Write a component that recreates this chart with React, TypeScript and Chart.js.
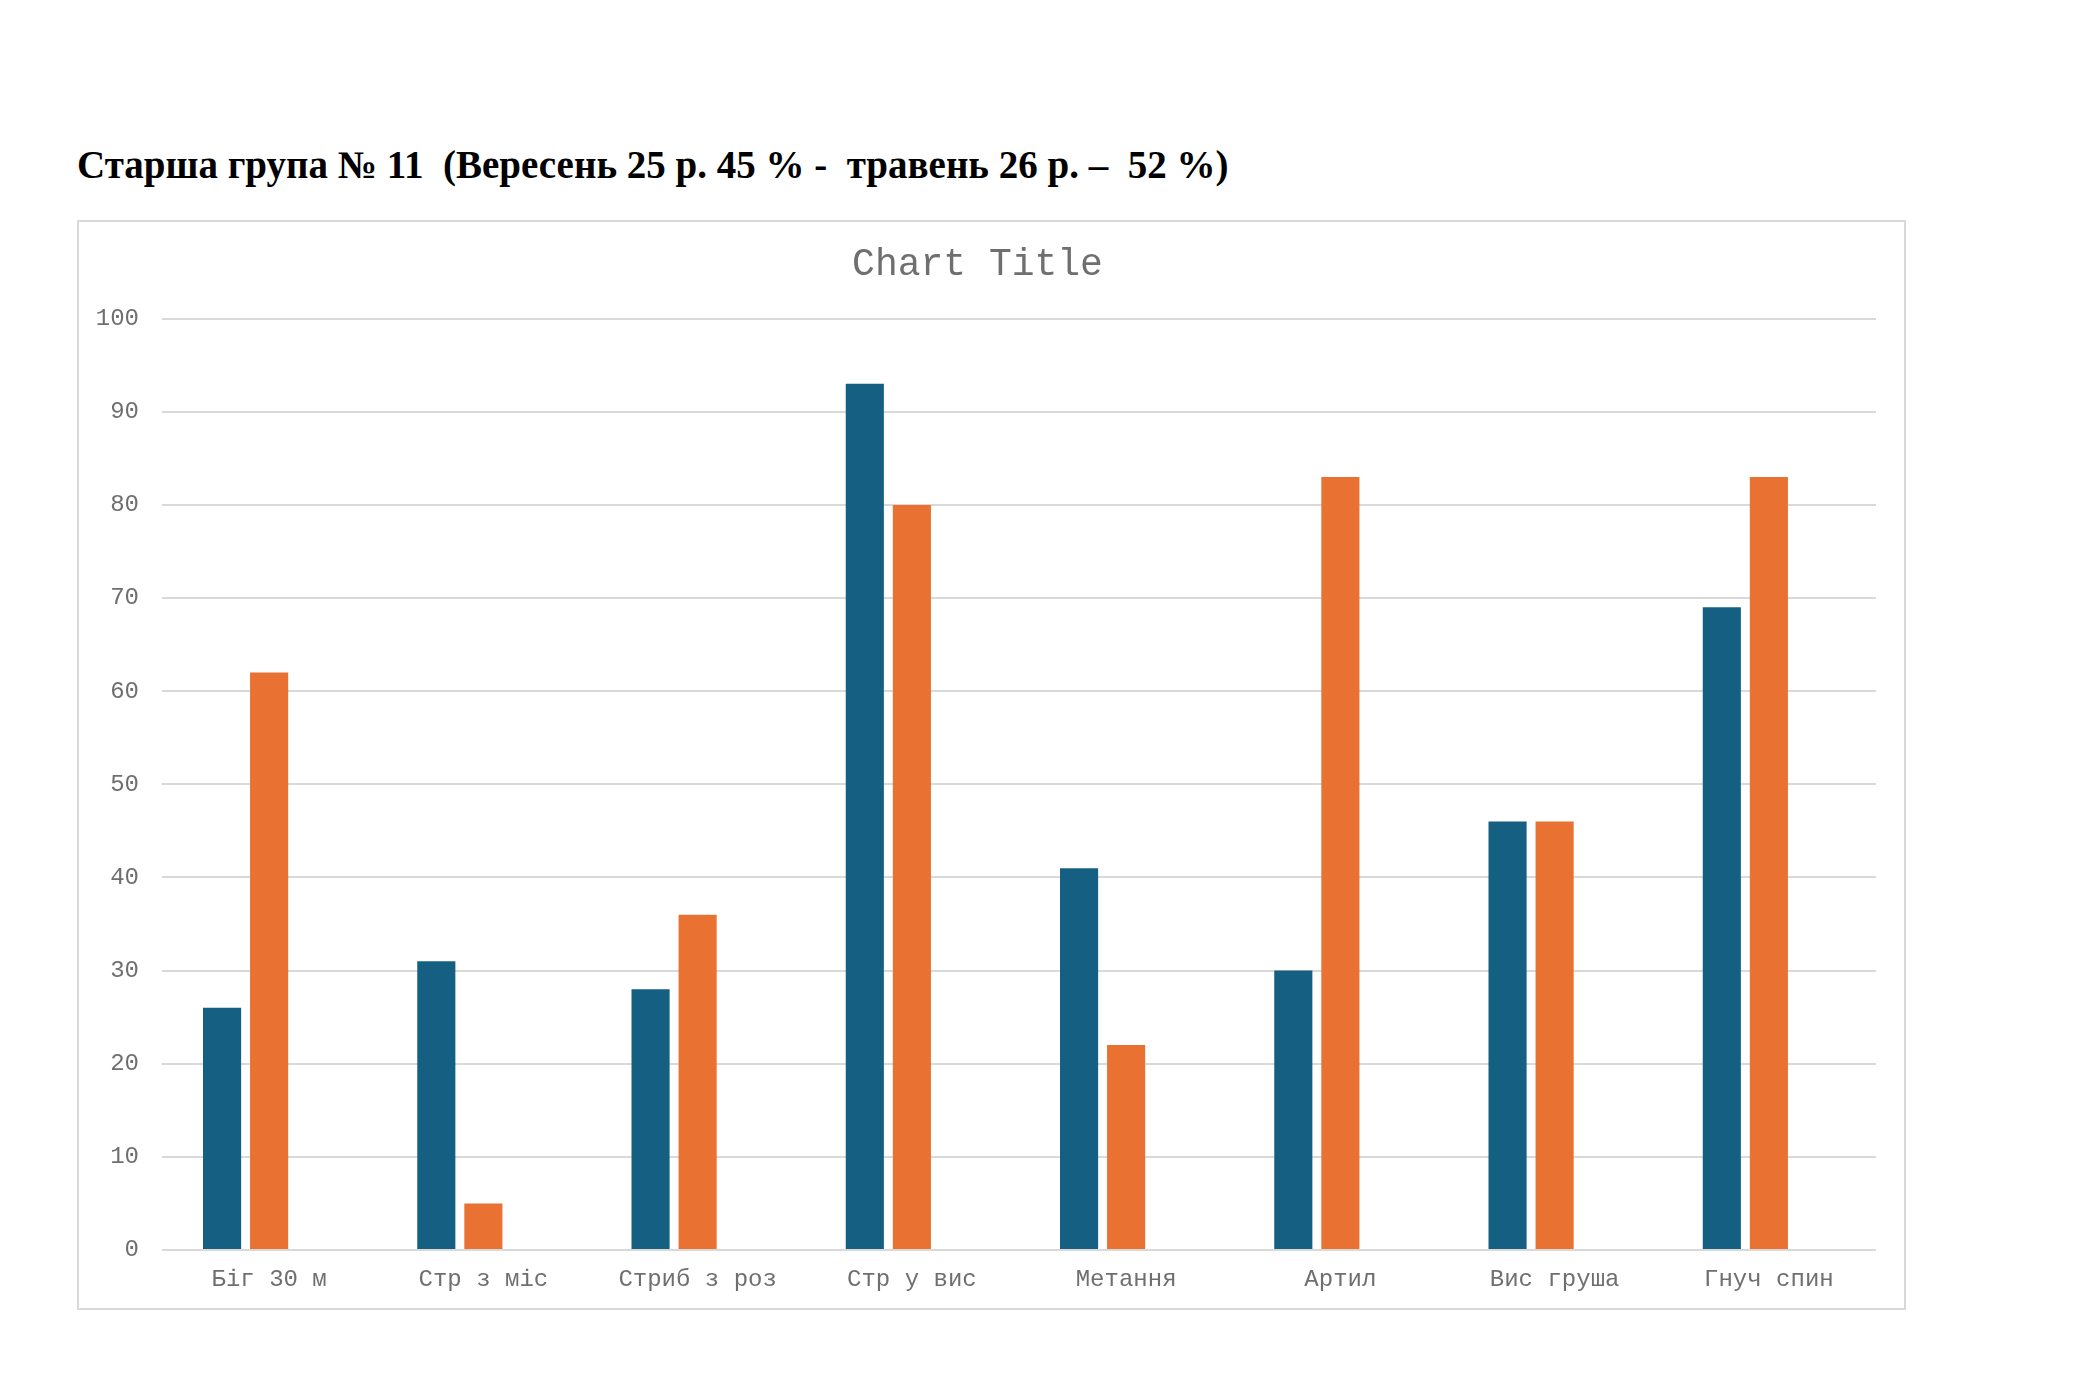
import { useEffect, useRef } from "react";
import { Chart, registerables } from "chart.js";

Chart.register(...registerables);

const categories = [
  "Біг 30 м",
  "Стр з міс",
  "Стриб з роз",
  "Стр у вис",
  "Метання",
  "Артил",
  "Вис груша",
  "Гнуч спин",
];

// вересень / травень
const autumnValues = [26, 31, 28, 93, 41, 30, 46, 69];
const springValues = [62, 5, 36, 80, 22, 83, 46, 83];
// третя серія в Excel порожня, але займає місце в групі
const emptyValues = categories.map(() => null);

const yMin = 0;
const yMax = 100;
const yStep = 10;

const heading = "Старша група № 11  (Вересень 25 р. 45 % -  травень 26 р. –  52 %)";

const mono = "'Liberation Mono', 'DejaVu Sans Mono', monospace";
const textGray = "#6F6F6F";

export default function App() {
  const canvasRef = useRef<HTMLCanvasElement>(null);
  const chartRef = useRef<Chart | null>(null);

  useEffect(() => {
    if (!canvasRef.current) return;

    const shared = {
      categoryPercentage: 0.659,
      barPercentage: 0.81,
    };

    const config: any = {
      type: "bar",
      data: {
        labels: categories,
        datasets: [
          { label: "Series1", data: autumnValues, backgroundColor: "#156082", ...shared },
          { label: "Series2", data: springValues, backgroundColor: "#E97132", ...shared },
          { label: "Series3", data: emptyValues, backgroundColor: "#196B24", ...shared },
        ],
      },
      options: {
        animation: false,
        responsive: false,
        maintainAspectRatio: false,
        layout: { padding: { left: 0, right: 28, top: 0, bottom: 0 } },
        plugins: {
          legend: { display: false },
          tooltip: { enabled: false },
          title: {
            display: true,
            text: "Chart Title",
            color: textGray,
            font: { family: mono, size: 38, weight: "normal" },
            padding: { top: 20, bottom: 31 },
          },
        },
        scales: {
          x: {
            grid: { display: false },
            border: { display: false },
            ticks: {
              color: textGray,
              font: { family: mono, size: 24 },
              padding: 7,
              maxRotation: 0,
              autoSkip: false,
            },
            afterFit: (scale: any) => {
              scale.height = 58;
            },
          },
          y: {
            min: yMin,
            max: yMax,
            grid: { color: "#D9D9D9", lineWidth: 2, drawTicks: false },
            border: { display: false },
            ticks: {
              stepSize: yStep,
              color: textGray,
              font: { family: mono, size: 24 },
              padding: 23,
            },
            afterFit: (scale: any) => {
              scale.width = 83;
            },
          },
        },
      },
    };

    chartRef.current = new Chart(canvasRef.current, config);

    return () => {
      chartRef.current?.destroy();
      chartRef.current = null;
    };
  }, []);

  return (
    <div
      style={{
        position: "absolute",
        left: 0,
        top: 0,
        width: 2092,
        height: 1377,
        background: "#fff",
      }}
    >
      <div
        style={{
          position: "absolute",
          left: 77,
          top: 141,
          fontFamily: "'Liberation Serif', 'Times New Roman', serif",
          fontWeight: "bold",
          fontSize: 39,
          lineHeight: "47px",
          whiteSpace: "pre",
          color: "#000",
        }}
      >
        {heading}
      </div>
      <div
        style={{
          position: "absolute",
          left: 77,
          top: 220,
          width: 1825,
          height: 1086,
          border: "2px solid #D9D9D9",
        }}
      >
        <canvas ref={canvasRef} width={1825} height={1086} style={{ display: "block" }} />
      </div>
    </div>
  );
}
